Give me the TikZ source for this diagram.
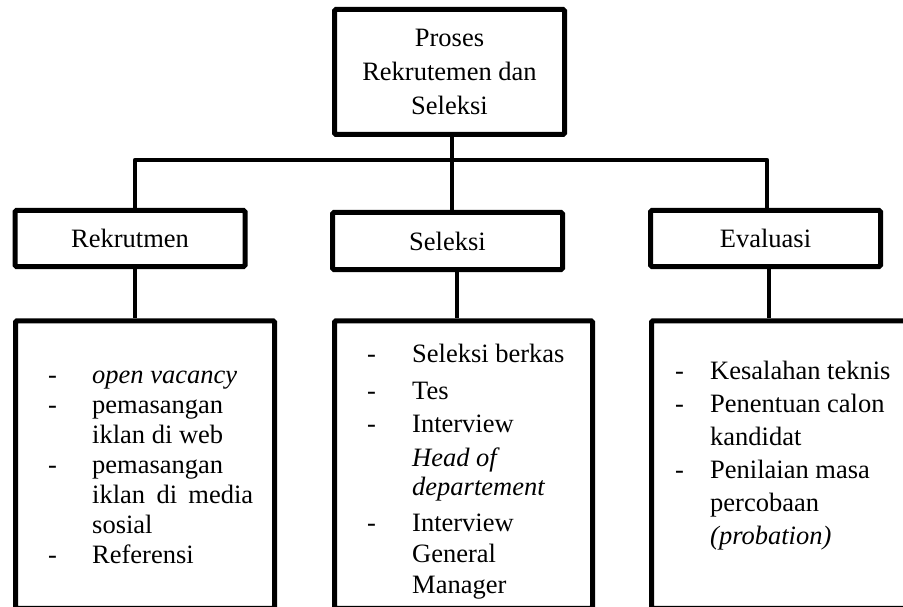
\documentclass[tikz,border=0pt]{standalone}
\usepackage{fontspec}
\setmainfont{Liberation Serif}
\usetikzlibrary{positioning}
\tikzset{
  box/.style={draw, line width=5pt, rounded corners=1.5pt, align=center, inner sep=0pt, font=\fontsize{26.5}{34}\selectfont},
  listbox/.style={draw, line width=5pt, rounded corners=1.5pt, minimum height=287.5pt, inner sep=0pt},
  items/.style={anchor=base west, align=left, inner sep=0pt},
  link/.style={line width=4.6pt, line join=round},
}
\newcommand{\itm}[2][44pt]{\makebox[#1][l]{-}#2}
\newcommand{\cnt}[2][44pt]{\hspace*{#1}#2}

\begin{document}
\begin{tikzpicture}[x=1pt, y=-1pt]
  \useasboundingbox (0,0) rectangle (903,607);
  \clip (0,0) rectangle (903,607);
  % root
  \node[box, minimum width=230pt, minimum height=125pt] (top) at (449.5,72) {Proses\\Rekrutemen dan\\Seleksi};
  % second level
  \node[box, minimum width=230pt, minimum height=56pt] (rek) at (130,238.5) {Rekrutmen};
  \node[box, minimum width=230pt, minimum height=57pt] (sel) at (447.5,241) {Seleksi};
  \node[box, minimum width=230pt, minimum height=56pt] (eva) at (765.5,238.5) {Evaluasi};
  % detail boxes (cut off at the bottom)
  \node[listbox, minimum width=259pt] (lrek) at (145,464.5) {};
  \node[listbox, minimum width=258pt] (lsel) at (463.5,464.5) {};
  \node[listbox, minimum width=259pt] (leva) at (781,464.5) {};
  % lists, anchored on the last baseline
  \node[items, font=\fontsize{26.5}{30}\selectfont] (trek) at (48,563) {%
    \itm{\textit{open vacancy}}\\
    \itm{pemasangan}\\
    \cnt{iklan di web}\\
    \itm{pemasangan}\\
    \cnt{\makebox[161pt][s]{iklan di media}}\\
    \cnt{sosial}\\
    \itm{Referensi}};
  \node[items, font=\fontsize{26.5}{31}\selectfont] (tsel) at (367,593) {%
    \itm[45pt]{Seleksi berkas}\\[6pt]
    \itm[45pt]{Tes}\\[2pt]
    \itm[45pt]{Interview}\\[3pt]
    \cnt[45pt]{\textit{Head of}}\\[-2pt]
    \cnt[45pt]{\textit{departement}}\\[5pt]
    \itm[45pt]{Interview}\\
    \cnt[45pt]{General}\\
    \cnt[45pt]{Manager}};
  \node[items, font=\fontsize{26.5}{33}\selectfont] (teva) at (675,544) {%
    \itm[35pt]{Kesalahan teknis}\\
    \itm[35pt]{Penentuan calon}\\
    \cnt[35pt]{kandidat}\\
    \itm[35pt]{Penilaian masa}\\
    \cnt[35pt]{percobaan}\\
    \cnt[35pt]{\textit{(probation)}}};
  \coordinate (bus) at (452,160);
  \draw[link] ([xshift=5pt]rek.north) |- (bus) -| ([xshift=1.5pt]eva.north);
  \draw[link] ([xshift=2.5pt]top.south) -- ([xshift=2.5pt]top.south |- sel.north);
  \draw[link] ([xshift=5pt]rek.south) -- ([xshift=5pt]rek.south |- lrek.north);
  \draw[link] ([xshift=9.5pt]sel.south) -- ([xshift=9.5pt]sel.south |- lsel.north);
  \draw[link] ([xshift=3.5pt]eva.south) -- ([xshift=3.5pt]eva.south |- leva.north);
\end{tikzpicture}
\end{document}
